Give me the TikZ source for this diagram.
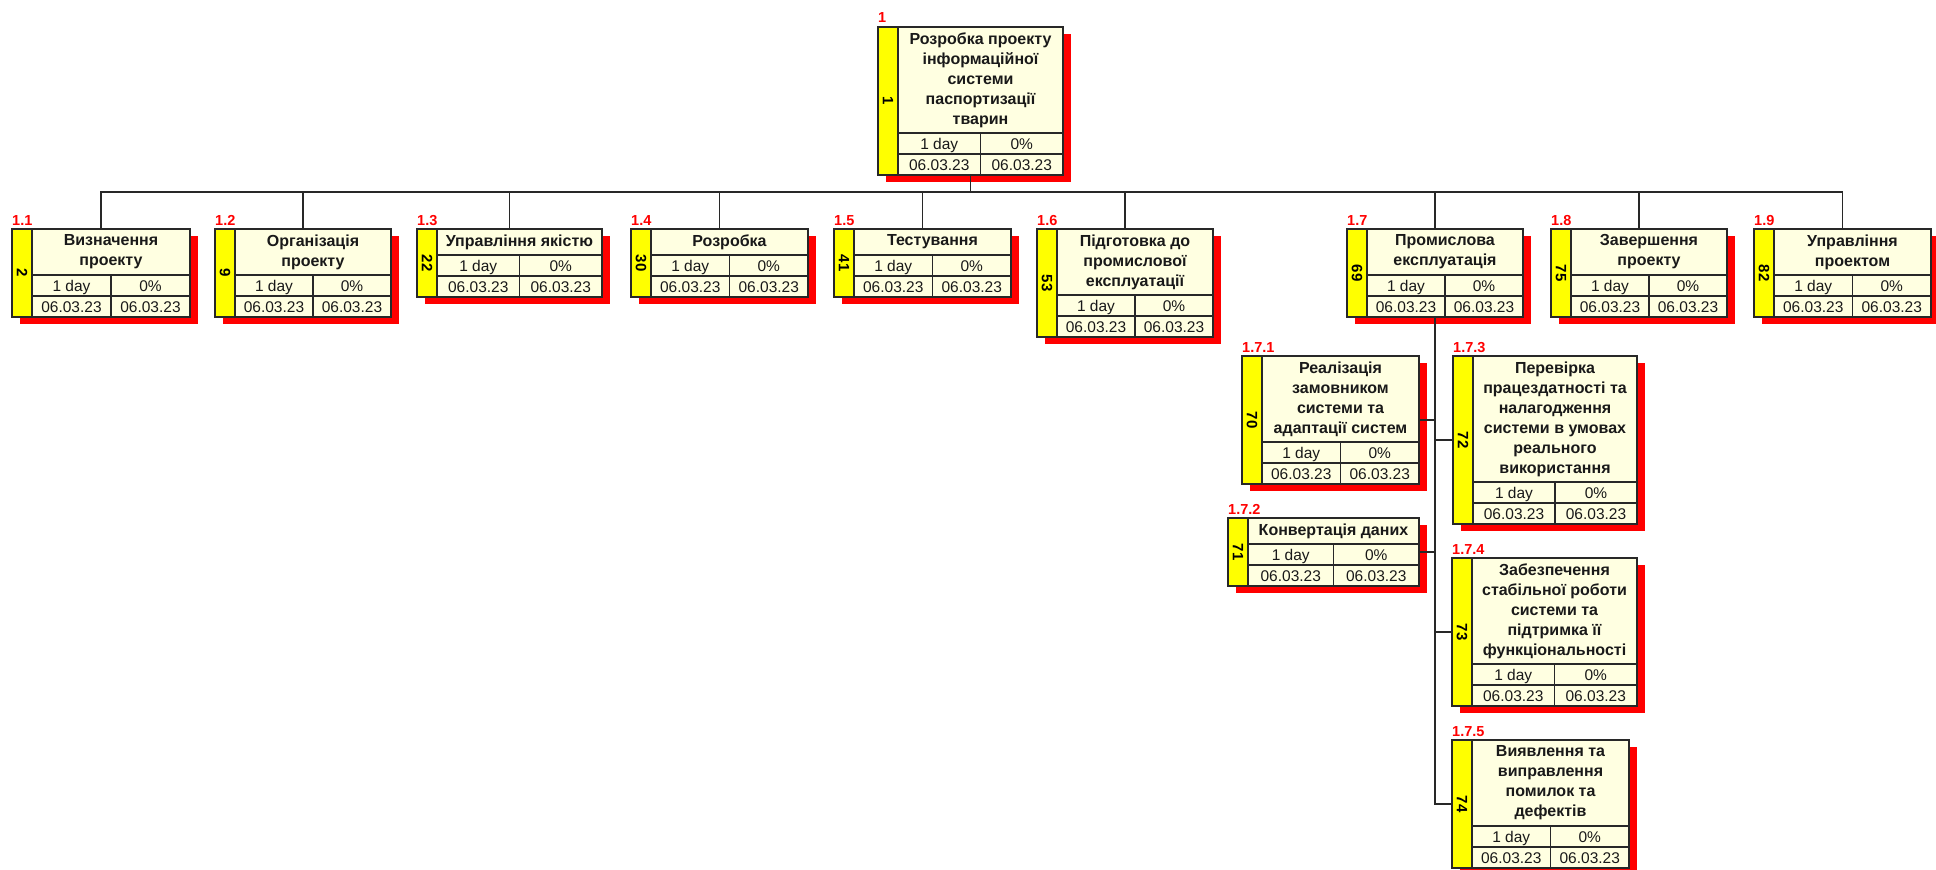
\documentclass[tikz,border=0pt]{standalone}
\usepackage{fontspec}
\setmainfont{Liberation Sans}
\usetikzlibrary{calc}
\definecolor{wbsfill}{RGB}{255,255,225}
\definecolor{wbsstrip}{RGB}{255,255,0}
\definecolor{wbsshadow}{RGB}{255,0,0}
\definecolor{wbsline}{RGB}{40,40,40}
\tikzset{
 wbsframe/.style={draw=wbsline, line width=1.4pt, fill=wbsfill, inner sep=0pt, outer sep=0pt},
 wbsrule/.style={draw=wbsline, line width=1.3pt},
 wbstitle/.style={font=\fontsize{16}{20}\selectfont\bfseries, align=center, inner sep=0pt, text=black!90},
 wbscell/.style={font=\fontsize{15.5}{18}\selectfont, inner sep=0pt, anchor=base, text=black!90},
 wbsnum/.style={font=\fontsize{15}{16}\selectfont\bfseries, inner sep=0pt, rotate=-90},
 wbslabel/.style={font=\fontsize{14.5}{16}\selectfont\bfseries, text=wbsshadow, inner sep=0pt, anchor=base west},
 wbsconn/.style={draw=wbsline, line width=1.5pt},
}
% #1 name, #2 x, #3 y, #4 width, #5 title lines, #6 strip number, #7 label, #8 title
\newcommand\wbs[8]{%
 \pgfmathsetmacro\wbsTH{20*#5+6}%
 \pgfmathsetmacro\wbsH{\wbsTH+42}%
 \fill[wbsshadow] (#2+8,#3+7) rectangle ++(#4,\wbsH);
 \node[wbsframe, minimum width=#4pt, minimum height=\wbsH pt, anchor=north west] (#1) at (#2,#3) {};
 \fill[wbsstrip] (#2,#3) rectangle ++(20,\wbsH);
 \draw[wbsrule] (#2+20,#3) -- ++(0,\wbsH);
 \draw[wbsrule] (#2+20,#3+\wbsTH) -- (#2+#4,#3+\wbsTH);
 \draw[wbsrule] (#2+20,#3+\wbsTH+21) -- (#2+#4,#3+\wbsTH+21);
 \draw[wbsrule] (#2+10+#4/2,#3+\wbsTH) -- ++(0,42);
 \draw[draw=wbsline, line width=1.4pt] (#1.north west) rectangle (#1.south east);
 \node[wbstitle] (#1-t) at (#2+10+#4/2,#3+\wbsTH/2) {#8};
 \node[wbscell] (#1-d) at (#2+15+#4/4,#3+\wbsTH+16) {1 day};
 \node[wbscell] (#1-p) at (#2+5+3*#4/4,#3+\wbsTH+16) {0\%};
 \node[wbscell] (#1-s) at (#2+15+#4/4,#3+\wbsTH+37) {06.03.23};
 \node[wbscell] (#1-f) at (#2+5+3*#4/4,#3+\wbsTH+37) {06.03.23};
 \node[wbsnum] (#1-n) at (#2+10,#3+\wbsH/2) {#6};
 \node[wbslabel] (#1-l) at (#2,#3-4) {#7};
}
\begin{document}
\begin{tikzpicture}[x=1pt,y=-1pt]
\useasboundingbox (0,0) rectangle (1936,870);
\wbs{root}{878}{27}{185}{5}{1}{1}{Розробка проекту\\інформаційної\\системи\\паспортизації\\тварин}
\wbs{n11}{12}{229}{178}{2}{2}{1.1}{Визначення\\проекту}
\wbs{n12}{215}{229}{176}{2}{9}{1.2}{Організація\\проекту}
\wbs{n13}{417}{229}{185}{1}{22}{1.3}{Управління якістю}
\wbs{n14}{631}{229}{177}{1}{30}{1.4}{Розробка}
\wbs{n15}{834}{229}{177}{1}{41}{1.5}{Тестування}
\wbs{n16}{1037}{229}{176}{3}{53}{1.6}{Підготовка до\\промислової\\експлуатації}
\wbs{n17}{1347}{229}{176}{2}{69}{1.7}{Промислова\\експлуатація}
\wbs{n18}{1551}{229}{176}{2}{75}{1.8}{Завершення\\проекту}
\wbs{n19}{1754}{229}{177}{2}{82}{1.9}{Управління\\проектом}
\wbs{n171}{1242}{356}{177}{4}{70}{1.7.1}{Реалізація\\замовником\\системи та\\адаптації систем}
\wbs{n172}{1228}{518}{191}{1}{71}{1.7.2}{Конвертація даних}
\wbs{n173}{1453}{356}{184}{6}{72}{1.7.3}{Перевірка\\працездатності та\\налагодження\\системи в умовах\\реального\\використання}
\wbs{n174}{1452}{558}{185}{5}{73}{1.7.4}{Забезпечення\\стабільної роботи\\системи та\\підтримка її\\функціональності}
\wbs{n175}{1452}{740}{177}{4}{74}{1.7.5}{Виявлення та\\виправлення\\помилок та\\дефектів}
% connectors
\foreach \c in {n11,n12,n13,n14,n15,n16,n17,n18,n19}
  \draw[wbsconn] (root.south) -- ++(0,17) -| (\c.north);
\draw[wbsconn] (n17.south) |- (n171.east);
\draw[wbsconn] (n17.south) |- (n172.east);
\draw[wbsconn] (n17.south) |- (n173.west);
\draw[wbsconn] (n17.south) |- (n174.west);
\draw[wbsconn] (n17.south) |- (n175.west);
\end{tikzpicture}
\end{document}
